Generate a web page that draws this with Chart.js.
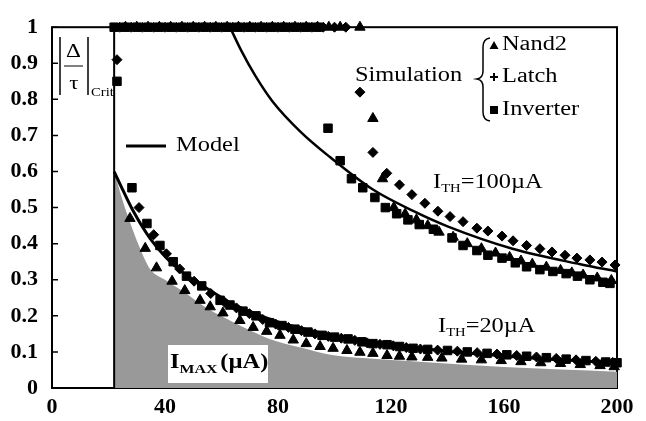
<!DOCTYPE html>
<html lang="en">
<head>
<meta charset="UTF-8">
<title>Critical delay ratio vs I_MAX</title>
<script src="https://cdn.jsdelivr.net/npm/chart.js"></script>
<style>
  html, body { margin: 0; padding: 0; background: #fff; }
  canvas { display: block; }
</style>
</head>
<body>
<canvas id="chart" width="646" height="421"></canvas>
<script>
// tick labels
const xTickLabels = ['0', '40', '80', '120', '160', '200'];
const yTickLabels = ['0', '0.1', '0.2', '0.3', '0.4', '0.5', '0.6', '0.7', '0.8', '0.9', '1'];

// model curves
const model20X = [22, 25, 28.8, 34.7, 40.6, 46, 52, 63, 70, 80, 90, 100, 120, 140, 160, 180, 200];
const model20Y = [0.6, 0.55, 0.49, 0.415, 0.36, 0.322, 0.29, 0.237, 0.212, 0.183, 0.162, 0.145, 0.12, 0.102, 0.089, 0.078, 0.07];
const model100X = [63, 67, 72, 78, 88, 98.4, 113.6, 128, 140, 163, 187, 200];
const model100Y = [1, 0.935, 0.865, 0.795, 0.71, 0.64, 0.55, 0.49, 0.448, 0.386, 0.343, 0.323];

// grey region (I_MAX)
const shadeX = [22, 25, 27.6, 31, 34.7, 40, 46, 55, 63, 70, 77, 88, 98, 110, 130, 160, 200];
const shadeY = [0.6, 0.52, 0.46, 0.39, 0.33, 0.3, 0.27, 0.22, 0.187, 0.16, 0.136, 0.112, 0.093, 0.083, 0.073, 0.058, 0.045];

// Inverter: saturated row, then I_TH=20uA, then I_TH=100uA
const invX = [22, 26, 30, 34, 38, 42, 46, 50, 54, 58, 62, 66, 70, 74, 78, 82, 86, 90, 94,
  23,
  28.3, 33.6, 38.2, 42.9, 47.6, 53, 59.5, 63, 67.6, 72.2, 77, 81.4, 86, 90.6, 95.6, 100, 104.8, 109.7, 113.6, 118.6, 123, 127.8, 133, 140, 147, 154, 161, 168, 175, 182, 189, 196, 200,
  97.7, 102, 106, 110, 114.3, 118, 122, 126, 130, 135, 141.6, 145.5, 150.4, 154.3, 159.3, 164, 168, 172.7, 177.3, 182, 186, 190.4, 195, 197.5];
const invY = [1, 1, 1, 1, 1, 1, 1, 1, 1, 1, 1, 1, 1, 1, 1, 1, 1, 1, 1,
  0.85,
  0.555, 0.456, 0.395, 0.35, 0.31, 0.283, 0.243, 0.23, 0.213, 0.2, 0.181, 0.173, 0.163, 0.155, 0.146, 0.141, 0.136, 0.128, 0.123, 0.12, 0.115, 0.11, 0.107, 0.104, 0.1, 0.096, 0.092, 0.088, 0.084, 0.08, 0.076, 0.072, 0.07,
  0.72, 0.63, 0.58, 0.555, 0.528, 0.5, 0.483, 0.466, 0.453, 0.44, 0.416, 0.395, 0.381, 0.368, 0.36, 0.347, 0.336, 0.328, 0.323, 0.317, 0.31, 0.3, 0.293, 0.29];

// Latch
const latchX = [24, 28, 32, 36, 40, 44, 48, 52, 56, 60, 64, 68, 72, 76, 80, 84, 88, 92, 96, 100, 104,
  23,
  30.8, 36, 40.5, 45.2, 50.3, 56.2, 61.2, 65.3, 69.9, 74.6, 79.2, 83.7, 88.3, 93.1, 97.8, 102.4, 107.2, 111.6, 116.1, 120.8, 125.4, 130.4, 136.5, 143.5, 150.5, 157.5, 164.5, 171.5, 178.5, 185.5, 192.5, 198.5,
  109, 113.6, 118.5, 123, 127.4, 132, 136.6, 140.9, 145.5, 150.4, 154.3, 159.3, 163.2, 168, 172.7, 177, 181.6, 185.8, 190.4, 194.7, 199.3];
const latchY = [1, 1, 1, 1, 1, 1, 1, 1, 1, 1, 1, 1, 1, 1, 1, 1, 1, 1, 1, 1, 1,
  0.91,
  0.5, 0.425, 0.372, 0.33, 0.296, 0.262, 0.237, 0.222, 0.206, 0.19, 0.177, 0.168, 0.159, 0.15, 0.143, 0.138, 0.132, 0.125, 0.121, 0.117, 0.112, 0.108, 0.105, 0.102, 0.098, 0.094, 0.09, 0.086, 0.082, 0.078, 0.074, 0.071,
  0.82, 0.653, 0.595, 0.563, 0.536, 0.512, 0.49, 0.475, 0.461, 0.443, 0.435, 0.421, 0.408, 0.395, 0.386, 0.377, 0.368, 0.36, 0.355, 0.349, 0.341];

// Nand2
const nandX = [26, 30, 34, 38, 42, 46, 50, 54, 58, 62, 66, 70, 74, 78, 82, 86, 90, 94, 98, 102, 109,
  27.6, 33, 37, 42.5, 47, 52.4, 56, 60.5, 66.5, 71.2, 76, 80.7, 85.4, 90, 94.9, 99.5, 104.4, 109, 113.6, 118.6, 123, 127.4, 133, 138, 145, 152, 159, 166, 173, 180, 187, 194, 199,
  113.6, 117, 121, 125, 129, 133, 137, 142, 147, 152, 157, 162, 166, 170, 175, 180, 184, 188, 193, 198];
const nandY = [1, 1, 1, 1, 1, 1, 1, 1, 1, 1, 1, 1, 1, 1, 1, 1, 1, 1, 1, 1, 1,
  0.47, 0.387, 0.333, 0.296, 0.27, 0.243, 0.225, 0.208, 0.187, 0.168, 0.157, 0.146, 0.133, 0.123, 0.115, 0.11, 0.104, 0.099, 0.096, 0.09, 0.088, 0.086, 0.085, 0.083, 0.08, 0.078, 0.076, 0.073, 0.07, 0.068, 0.065, 0.062, 0.059,
  0.747, 0.58, 0.5, 0.482, 0.466, 0.45, 0.432, 0.418, 0.4, 0.386, 0.374, 0.362, 0.352, 0.343, 0.335, 0.326, 0.319, 0.313, 0.305, 0.298];

// I_MAX boundary line (vertical)
const limitX = [22, 22];
const limitY = [0, 1];

const pts = (xs, ys) => xs.map((x, i) => ({ x: x, y: ys[i] }));

const SERIF = '"Liberation Serif", "Times New Roman", serif';
const SX = 1.22; // the original picture is stretched horizontally

function put(ctx, s, x, y, size, bold, align) {
    ctx.save();
    ctx.font = (bold ? 'bold ' : '') + size + 'px ' + SERIF;
    ctx.textBaseline = 'middle';
    ctx.textAlign = align || 'left';
    ctx.translate(x, y);
    ctx.scale(SX, 1);
    ctx.fillText(s, 0, 0);
    const w = ctx.measureText(s).width * SX;
    ctx.restore();
    return w;
}

const decor = {
    id: 'decor',
    beforeDatasetsDraw(chart) {
        const { ctx, chartArea: a, scales } = chart;
        ctx.save();
        ctx.strokeStyle = '#000';
        ctx.lineWidth = 2;
        ctx.strokeRect(a.left, a.top, a.right - a.left, a.bottom - a.top);
        // inward tick marks
        ctx.lineWidth = 1.5;
        ctx.beginPath();
        scales.y.ticks.forEach(t => {
            const py = scales.y.getPixelForValue(t.value);
            ctx.moveTo(a.left, py); ctx.lineTo(a.left + 6, py);
        });
        scales.x.ticks.forEach(t => {
            const px = scales.x.getPixelForValue(t.value);
            ctx.moveTo(px, a.bottom); ctx.lineTo(px, a.bottom - 5);
        });
        ctx.stroke();
        ctx.restore();
    },
    afterDatasetsDraw(chart) {
        const ctx = chart.ctx;
        ctx.save();
        ctx.fillStyle = '#000';
        ctx.strokeStyle = '#000';

        // y axis label |Delta / tau|_Crit
        ctx.lineWidth = 1.5;
        ctx.beginPath();
        ctx.moveTo(60, 37); ctx.lineTo(60, 95);
        ctx.moveTo(88, 37); ctx.lineTo(88, 95);
        ctx.stroke();
        ctx.lineWidth = 1;
        ctx.beginPath();
        ctx.moveTo(64, 66); ctx.lineTo(83, 66);
        ctx.stroke();
        put(ctx, '\u0394', 73.5, 52, 19, false, 'center');
        put(ctx, '\u03C4', 74, 84, 19, false, 'center');
        put(ctx, 'Crit', 91, 93, 12, false);

        // Model legend
        ctx.lineWidth = 3;
        ctx.beginPath();
        ctx.moveTo(126, 146); ctx.lineTo(166, 146);
        ctx.stroke();
        put(ctx, 'Model', 176, 146, 20, false);

        // Simulation legend with brace
        put(ctx, 'Simulation', 355, 76, 20, false);
        ctx.lineWidth = 1.5;
        ctx.beginPath();
        ctx.moveTo(490, 38);
        ctx.quadraticCurveTo(483, 39, 483, 47);
        ctx.lineTo(483, 71);
        ctx.quadraticCurveTo(483, 78, 477, 79);
        ctx.quadraticCurveTo(483, 80, 483, 87);
        ctx.lineTo(483, 112);
        ctx.quadraticCurveTo(483, 120, 490, 121);
        ctx.stroke();
        // markers
        ctx.beginPath();
        ctx.moveTo(494, 41); ctx.lineTo(498.5, 49); ctx.lineTo(489.5, 49); ctx.closePath();
        ctx.fill();
        ctx.lineWidth = 2;
        ctx.beginPath();
        ctx.moveTo(490, 77); ctx.lineTo(498, 77);
        ctx.moveTo(494, 73); ctx.lineTo(494, 81);
        ctx.stroke();
        ctx.fillRect(490, 106, 8, 8);
        put(ctx, 'Nand2', 502, 45, 20, false);
        put(ctx, 'Latch', 502, 77, 20, false);
        put(ctx, 'Inverter', 502, 110, 20, false);

        // threshold labels
        let x = 433;
        x += put(ctx, 'I', x, 183, 20, false);
        x += put(ctx, 'TH', x, 189, 12, false);
        put(ctx, '=100\u00B5A', x, 183, 20, false);
        x = 438;
        x += put(ctx, 'I', x, 327, 20, false);
        x += put(ctx, 'TH', x, 333, 12, false);
        put(ctx, '=20\u00B5A', x, 327, 20, false);

        // I_MAX label on white box
        ctx.fillStyle = '#fff';
        ctx.fillRect(168, 345, 100, 38);
        ctx.fillStyle = '#000';
        x = 170;
        x += put(ctx, 'I', x, 363, 20, true);
        x += put(ctx, 'MAX', x, 370, 13, true) + 3;
        put(ctx, '(\u00B5A)', x, 363, 20, true);
        ctx.restore();
    }
};

const tickFont = { family: SERIF, size: 22, weight: 'bold' };

new Chart(document.getElementById('chart'), {
    type: 'scatter',
    data: {
        datasets: [
            {
                type: 'line', data: pts(shadeX, shadeY), fill: 'origin',
                backgroundColor: '#999999', borderWidth: 0, pointRadius: 0,
                cubicInterpolationMode: 'monotone', order: 10
            },
            {
                type: 'line', data: pts(limitX, limitY), borderColor: '#000',
                borderWidth: 2, pointRadius: 0, fill: false, order: 9
            },
            {
                type: 'line', data: pts(model20X, model20Y), borderColor: '#000',
                borderWidth: 3, pointRadius: 0, fill: false,
                cubicInterpolationMode: 'monotone', order: 8
            },
            {
                type: 'line', data: pts(model100X, model100Y), borderColor: '#000',
                borderWidth: 2.5, pointRadius: 0, fill: false,
                cubicInterpolationMode: 'monotone', order: 8
            },
            {
                label: 'Inverter', data: pts(invX, invY), pointStyle: 'rect',
                pointRadius: 6, backgroundColor: '#000', borderColor: '#000', order: 3
            },
            {
                label: 'Latch', data: pts(latchX, latchY), pointStyle: 'rectRot',
                pointRadius: 5, backgroundColor: '#000', borderColor: '#000', order: 2
            },
            {
                label: 'Nand2', data: pts(nandX, nandY), pointStyle: 'triangle',
                pointRadius: 6, backgroundColor: '#000', borderColor: '#000', order: 1
            }
        ]
    },
    options: {
        responsive: false,
        animation: false,
        clip: false,
        layout: { padding: { top: 13, right: 29, left: 0, bottom: 0 } },
        plugins: { legend: { display: false }, tooltip: { enabled: false } },
        scales: {
            x: {
                type: 'linear', min: 0, max: 200,
                afterFit: s => { s.height = 33; },
                grid: { display: false, drawTicks: false },
                border: { display: false },
                ticks: {
                    stepSize: 40, padding: 6, color: '#000', font: tickFont,
                    autoSkip: false, maxRotation: 0,
                    callback: (v, i) => xTickLabels[i]
                }
            },
            y: {
                type: 'linear', min: 0, max: 1,
                afterFit: s => { s.width = 52; },
                grid: { display: false, drawTicks: false },
                border: { display: false },
                ticks: {
                    stepSize: 0.1, padding: 14, color: '#000', font: tickFont,
                    autoSkip: false,
                    callback: (v, i) => yTickLabels[i]
                }
            }
        }
    },
    plugins: [decor]
});
</script>
</body>
</html>
